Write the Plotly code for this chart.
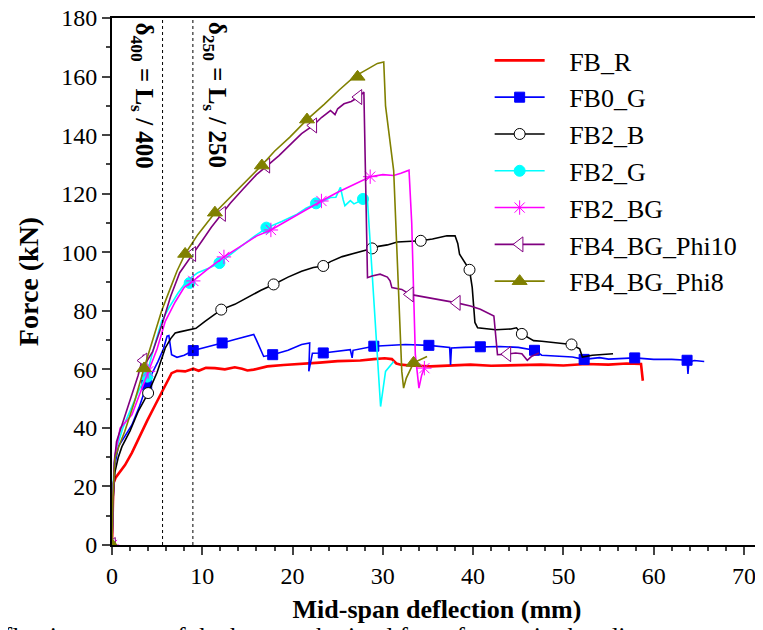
import plotly.graph_objects as go

# load-deflection data (x in mm, y in kN)
fbr_x = [0, 0.05, 0.15, 0.4, 0.9, 1.44, 2.2, 2.92, 3.9, 4.8, 5.8, 6.6, 7.2, 8.1, 9.0, 9.6, 10.4, 11.4, 12.5,
         13.6, 14.4, 15.0, 15.7, 16.5, 17.2, 19.0, 20.9, 23.0, 25.0, 27.5, 29.0, 30.2, 31.0, 31.5, 32.0, 33.0,
         35.3, 37.5, 39.7, 42.0, 44.5, 47.5, 50.0, 52.5, 55.0, 57.0, 58.6, 58.8]
fbr_y = [0, 15, 21, 23, 25, 27.3, 31.5, 36.4, 42.5, 47.9, 53.8, 58.7, 59.5, 59.3, 60.2, 59.5, 60.5, 60.4, 60.0,
         60.7, 60.2, 59.6, 59.9, 60.5, 61.0, 61.5, 62.0, 62.3, 62.8, 63.0, 63.5, 63.8, 63.5, 62.0, 61.6, 61.3,
         61.0, 61.3, 61.6, 61.2, 61.4, 61.6, 61.3, 61.8, 61.6, 62.0, 61.8, 56.1]

fb0g_x = [0, 0.1, 0.3, 0.7, 1.4, 2.2, 3.0, 3.85, 4.5, 5.1, 5.7, 6.1, 6.3, 6.6, 7.2, 8.0, 9.0, 10.5, 12.2, 13.6,
          15.0, 15.7, 16.0, 16.8, 17.8, 19.5, 21.0, 21.9, 21.8, 22.2, 23.4, 25.0, 26.4, 26.6, 26.7, 29.0, 31.0,
          32.5, 35.1, 37.4, 37.5, 37.6, 39.0, 40.8, 43.0, 45.0, 46.8, 47.6, 49.5, 51.0, 52.3, 54.0, 55.0, 57.9,
          60.0, 62.0, 63.7, 63.8, 63.9, 64.5, 65.6]
fb0g_y = [0, 18, 27, 33.6, 37, 41, 47, 54.7, 59, 62.7, 67, 71.3, 71.5, 65, 64.1, 64.8, 66.4, 67.5, 69, 70.2,
          71.5, 71.9, 70, 64.4, 65, 66.5, 68.5, 69, 59.3, 65.5, 65.6, 66.2, 66.7, 63.9, 66.5, 67.9, 68.2,
          68.5, 68.2, 67.5, 61.5, 67.3, 67.5, 67.7, 67.8, 67.5, 66.5, 64.8, 64.5, 64.2, 63.4, 64.0, 63.5, 63.9,
          63.4, 63.4, 63.1, 58.4, 62.5, 63.0, 62.7]
fb0g_mx = [3.85, 9.0, 12.2, 17.8, 23.4, 29.0, 35.1, 40.8, 46.8, 52.3, 57.9, 63.7]
fb0g_my = [54.7, 66.4, 69.0, 65.0, 65.6, 67.9, 68.2, 67.7, 66.5, 63.4, 63.9, 63.1]

fb2b_x = [0, 0.1, 0.33, 0.7, 1.1, 2.0, 2.9, 4.0, 5.0, 5.9, 6.5, 7.0, 7.5, 8.5, 9.3, 10.3, 11.2, 12.1, 13.6, 15.0,
          16.5, 17.9, 19.5, 21.0, 22.3, 23.4, 24.2, 25.5, 26.5, 28.8, 29.5, 30.5, 31.6, 33.0, 34.2, 35.5, 37.1,
          38.0, 38.3, 38.5, 39.3, 39.6, 39.9, 40.2, 40.5, 42.5, 44.2, 44.8, 45.4, 46.7, 47.6, 49.0, 50.9, 51.8,
          52.1, 53.2, 55.5]
fb2b_y = [0, 15, 25, 30, 33.6, 39, 45.6, 51.9, 59, 67.3, 70.5, 72.4, 72.8, 73.6, 74.0, 76.4, 78.5, 80.4, 82.2,
          84.5, 87, 89, 91.5, 93.5, 94.8, 95.3, 96.8, 98.5, 99.3, 101.3, 102, 102.5, 103.5, 103.7, 103.9, 104.5,
          105.6, 105.6, 103, 99.3, 95.5, 94.0, 88, 76, 74.2, 73.5, 73.8, 74.2, 72.1, 69.8, 69.6, 69.2, 68.5, 67,
          64.2, 64.8, 65.3]
fb2b_mx = [4.0, 12.1, 17.9, 23.4, 28.8, 34.2, 39.6, 45.4, 50.9]
fb2b_my = [51.9, 80.4, 89.0, 95.3, 101.3, 103.9, 94.0, 72.1, 68.5]

fb2g_x = [0, 0.1, 0.25, 0.5, 1.2, 2.0, 3.0, 3.85, 4.6, 5.5, 6.3, 7.3, 8.3, 9.5, 10.7, 11.9, 13.1, 14.5, 15.8,
          17.2, 18.8, 20.5, 21.5, 22.5, 23.4, 24.2, 24.8, 25.3, 25.6, 25.8, 26.4, 26.8, 27.7, 28.3, 28.8, 29.3,
          29.7, 29.75, 30.3, 31.2]
fb2g_y = [0, 18, 28, 33, 40, 46, 53, 58.2, 67, 76.4, 81, 86, 90.2, 93, 94.5, 96.3, 99.3, 102.5, 105.5,
          108.4, 110.5, 113, 115, 116.5, 117.5, 118.7, 118.8, 122.2, 118, 115.9, 117.6, 116.5, 117.8, 117.6,
          93.6, 70, 50.2, 47.3, 59.3, 62.7]
fb2g_mx = [3.9, 8.6, 11.9, 17.1, 22.6, 27.8]
fb2g_my = [57.5, 89.5, 96.3, 108.4, 116.7, 118.2]

fb2bg_x = [0, 0.1, 0.3, 0.9, 1.5, 2.2, 3.0, 4.0, 5.0, 5.9, 7.0, 8.0, 9.0, 10.5, 12.4, 14.5, 16.0, 17.6, 19.5,
           21.5, 23.2, 25.0, 27.0, 28.6, 30.0, 31.2, 32.0, 32.9, 33.2, 33.6, 34.0, 34.3, 34.6]
fb2bg_y = [0, 15, 30, 39.9, 42, 44.5, 51, 59.3, 67, 76.4, 83, 88, 90.2, 94, 98.4, 102.5, 105.5, 107.6, 111,
           114.5, 117.5, 120.5, 123.5, 125.8, 126.5, 126.2, 127, 128, 110, 65, 53.6, 58, 60.4]
fb2bg_mx = [0, 4.0, 9.0, 12.4, 17.6, 23.2, 28.6, 34.6]
fb2bg_my = [0, 59.3, 90.2, 98.4, 107.6, 117.5, 125.8, 60.4]

fb4p10_x = [0, 0.1, 0.25, 0.5, 1.2, 2.0, 2.9, 3.3, 3.5, 3.7, 4.5, 5.5, 6.5, 7.5, 8.9, 10.0, 11.0, 12.2, 13.1,
            14.5, 16.0, 17.2, 18.5, 20.0, 21.0, 22.3, 23.2, 24.2, 24.7, 25.0, 25.7, 26.5, 27.3, 27.9, 28.1,
            28.3, 28.8, 29.7, 30.5, 30.8, 31.0, 32.1, 33.0, 35.3, 37.0, 38.2, 39.7, 40.8, 42.3, 42.5, 42.7,
            43.8, 44.7, 45.4, 46.0, 46.5, 47.3]
fb4p10_y = [0, 15, 28, 35.3, 42, 50, 58, 62.7, 65, 62, 66, 75, 85, 93, 99.4, 104, 108.5, 113.1, 116.7,
            121.5, 126.5, 129.6, 133, 137.5, 140.5, 143.3, 146, 148.4, 147, 149, 150.7, 151.5, 153, 154.7, 120,
            91.3, 91.9, 92.5, 91.5, 90.2, 87.9, 87.3, 85.6, 84.4, 83.5, 82.7, 81.6, 80.5, 78.2, 72, 65,
            65.2, 65.6, 65.3, 63.1, 64.5, 65.6]
fb4p10_mx = [0, 3.5, 8.9, 12.2, 17.1, 22.3, 27.3, 33.0, 38.2, 43.8]
fb4p10_my = [0, 63.0, 99.4, 113.1, 129.6, 143.3, 153.0, 85.6, 82.7, 65.2]

fb4p8_x = [0, 0.1, 0.33, 0.8, 1.4, 2.5, 3.55, 4.5, 5.5, 6.5, 7.2, 8.1, 9.5, 11.4, 13.1, 14.8, 16.5, 18.0,
           19.7, 21.6, 23.5, 25.2, 26.8, 28.4, 29.4, 30.1, 30.3, 31.2, 32.1, 32.3, 32.6, 33.4, 34.2, 34.9]
fb4p8_y = [0, 16, 29.6, 34, 38.7, 49, 60.4, 70, 80, 88, 93.6, 99.4, 106, 113.5, 118.7, 124, 129.4, 134.5,
           139.3, 145.3, 150.5, 155.5, 159.9, 162.7, 164.5, 165, 150, 127.9, 59.3, 53.6, 57, 62.2, 63.5, 64.4]
fb4p8_mx = [0, 3.55, 8.1, 11.4, 16.6, 21.6, 27.2, 33.4]
fb4p8_my = [0, 60.3, 99.4, 113.5, 129.6, 145.3, 159.9, 62.2]

Ls = 2240  # span, mm
delta400 = Ls / 400
delta250 = Ls / 250

FONT = "Liberation Serif, Times New Roman, serif"
PAD = "\u00a0\u00a0\u00a0"  # wider gap between legend line and label

series = [
    ("FB_R", fbr_x, fbr_y, None, None, "#FF0000", 2.6, None, None, None),
    ("FB0_G", fb0g_x, fb0g_y, fb0g_mx, fb0g_my, "#0000FF", 1.6, "square", "#0000FF", 10),
    ("FB2_B", fb2b_x, fb2b_y, fb2b_mx, fb2b_my, "#000000", 1.6, "circle", "#FFFFFF", 11),
    ("FB2_G", fb2g_x, fb2g_y, fb2g_mx, fb2g_my, "#00FFFF", 1.6, "circle", "#00FFFF", 11),
    ("FB2_BG", fb2bg_x, fb2bg_y, fb2bg_mx, fb2bg_my, "#FF00FF", 1.6, "asterisk-open", "#FF00FF", 12),
    ("FB4_BG_Phi10", fb4p10_x, fb4p10_y, fb4p10_mx, fb4p10_my, "#800080", 1.6, "triangle-left", "#FFFFFF", 13),
    ("FB4_BG_Phi8", fb4p8_x, fb4p8_y, fb4p8_mx, fb4p8_my, "#808000", 1.6, "triangle-up", "#808000", 13),
]

fig = go.Figure()
for name, xs, ys, mx, my, col, lw, sym, fill, ms in series:
    fig.add_trace(go.Scatter(x=xs, y=ys, mode="lines", line=dict(color=col, width=lw),
                             showlegend=False, hoverinfo="skip"))
    mk = None
    if sym is not None:
        mk = dict(symbol=sym, color=fill, size=ms, line=dict(color=col, width=1))
        fig.add_trace(go.Scatter(x=mx, y=my, mode="markers", marker=mk, showlegend=False))
    # legend entry
    fig.add_trace(go.Scatter(x=[None], y=[None], name=PAD + name,
                             mode="lines+markers" if mk else "lines",
                             line=dict(color=col, width=lw), marker=mk))

fig.add_vline(x=delta400, line=dict(color="black", width=1, dash="dot"))
fig.add_vline(x=delta250, line=dict(color="black", width=1, dash="dot"))

fig.add_annotation(x=delta400 - 2.2, y=0.996, xref="x", yref="paper", xanchor="center", yanchor="top",
                   text="δ<sub>400</sub> = L<sub>s</sub> / 400", textangle=90, showarrow=False,
                   font=dict(family=FONT, size=25, color="black", weight="bold"))
fig.add_annotation(x=delta250 + 2.5, y=0.996, xref="x", yref="paper", xanchor="center", yanchor="top",
                   text="δ<sub>250</sub> = L<sub>s</sub> / 250", textangle=90, showarrow=False,
                   font=dict(family=FONT, size=25, color="black", weight="bold"))

# caption line, cut off by the bottom edge as in the source image
fig.add_annotation(x=-0.303, y=(545 - 636) / 527, xref="paper", yref="paper", xanchor="left", yanchor="middle",
                   text="Load-deflection curves of the beams obtained from four-point bending tests",
                   showarrow=False, font=dict(family=FONT, size=26, color="black"))

# the page body adds an 8 px offset, margins compensate for it
fig.update_layout(
    width=763, height=630,
    margin=dict(l=104, r=9, t=10, b=93),
    paper_bgcolor="white", plot_bgcolor="white",
    font=dict(family=FONT, color="black", size=24),
    legend=dict(x=0.581, y=0.964, xanchor="left", yanchor="top", bgcolor="rgba(0,0,0,0)",
                font=dict(family=FONT, size=26), itemwidth=50),
    xaxis=dict(range=[0, 72], dtick=10, ticks="outside", ticklen=8, tickwidth=2, automargin=False,
               ticklabeloverflow="allow",
               minor=dict(dtick=2, ticks="outside", ticklen=4, tickwidth=2),
               showline=True, linecolor="black", linewidth=2, mirror=True, showgrid=False, zeroline=False,
               tickfont=dict(size=24),
               title=dict(text="Mid-span deflection (mm)", standoff=12,
                          font=dict(family=FONT, size=26, weight="bold"))),
    yaxis=dict(range=[0, 180], dtick=20, ticks="outside", ticklen=8, tickwidth=2, automargin=False,
               ticklabeloverflow="allow",
               minor=dict(dtick=10, ticks="outside", ticklen=4, tickwidth=2),
               showline=True, linecolor="black", linewidth=2, mirror=True, showgrid=False, zeroline=False,
               tickfont=dict(size=24),
               title=dict(text="Force (kN)", standoff=14,
                          font=dict(family=FONT, size=28, weight="bold"))),
)

fig.write_html("out.html")
